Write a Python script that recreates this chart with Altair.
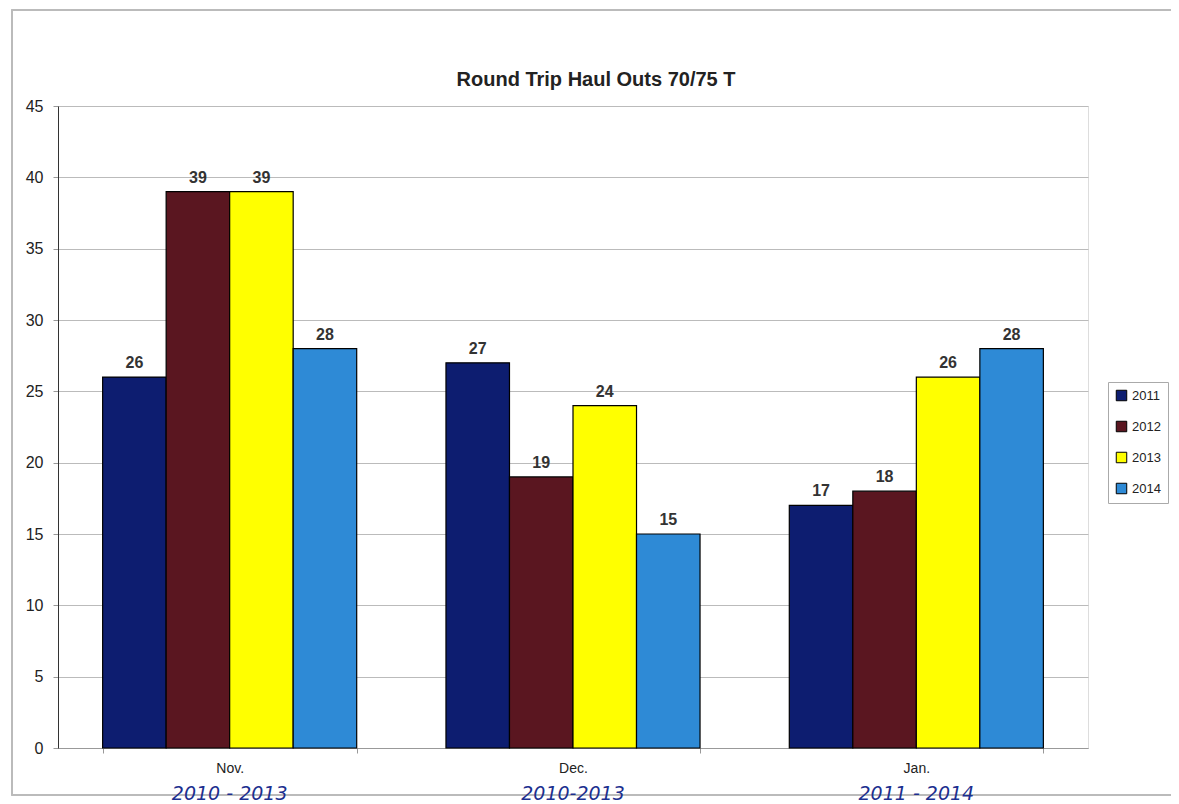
import altair as alt
import pandas as pd

months = ["Nov.", "Dec.", "Jan."]
ranges = ["2010 - 2013", "2010-2013", "2011 - 2014"]
years = ["2011", "2012", "2013", "2014"]
values = {
    "2011": [26, 27, 17],
    "2012": [39, 19, 18],
    "2013": [39, 24, 26],
    "2014": [28, 15, 28],
}
colors = ["#0d1d70", "#5a1620", "#ffff00", "#2e8ad6"]
title_text = ["Round Trip Haul Outs 70/75 T"]

rows = []
for y in years:
    for m, v in zip(months, values[y]):
        rows.append({"month": m, "year": y, "value": v})
df = pd.DataFrame(rows)
rdf = pd.DataFrame({"month": months, "range": ranges})
tdf = pd.DataFrame({"t": title_text})

xscale = alt.Scale(domain=months, paddingInner=0.26, paddingOuter=0.13)

bars = alt.Chart(df).mark_bar(stroke="black", strokeWidth=1.2).encode(
    x=alt.X("month:N", scale=xscale, sort=months,
            axis=alt.Axis(title=None, labelAngle=0, labelFont="Arial", labelFontSize=14,
                          labelColor="#222", labelPadding=8, ticks=True, tickBand="extent",
                          domainColor="#999", tickColor="#999", grid=False)),
    xOffset=alt.XOffset("year:N", sort=years, scale=alt.Scale(paddingInner=0, paddingOuter=0)),
    y=alt.Y("value:Q", scale=alt.Scale(domain=[0, 45]),
            axis=alt.Axis(title=None, values=list(range(0, 46, 5)), labelFont="Arial",
                          labelFontSize=16, labelColor="#222", labelPadding=10,
                          domainColor="#333", tickColor="#999", tickSize=5,
                          gridColor="#bbbbbb", gridWidth=1.2)),
    color=alt.Color("year:N", sort=years, scale=alt.Scale(domain=years, range=colors),
                    legend=alt.Legend(title=None, orient="none", legendX=1050, legendY=276,
                                      symbolType="square", symbolSize=110, symbolStrokeColor="black",
                                      symbolStrokeWidth=1, labelFont="Arial", labelFontSize=13,
                                      labelColor="#222", rowPadding=16, strokeColor="#aaa",
                                      padding=7, fillColor="white")),
)

labels = alt.Chart(df).mark_text(dy=-14, fontWeight="bold", font="Arial", fontSize=16,
                                 color="#333").encode(
    x=alt.X("month:N", scale=xscale, sort=months),
    xOffset=alt.XOffset("year:N", sort=years),
    y="value:Q",
    text="value:Q",
)

hand = alt.Chart(rdf).mark_text(font="DejaVu Sans", fontStyle="italic", fontSize=19,
                                color="#1c2f8f", baseline="middle").encode(
    x=alt.X("month:N", scale=xscale, sort=months),
    y=alt.value(688),
    text="range:N",
)

title = alt.Chart(tdf).mark_text(font="Arial", fontSize=20, fontWeight="bold",
                                 color="#222", baseline="middle").encode(
    x=alt.value(538), y=alt.value(-26), text="t:N",
)

frame = alt.Chart(rdf).mark_rect(fillOpacity=0, stroke="#bbb", strokeWidth=1.5).encode(
    x=alt.value(-46), x2=alt.value(1114), y=alt.value(-96), y2=alt.value(689),
)

chart = alt.layer(frame, bars, labels, hand, title).properties(
    width=1030, height=642,
    autosize=alt.AutoSizeParams(type="none"),
    padding={"left": 50, "top": 98, "right": 83, "bottom": 56},
).configure_view(stroke="#999", strokeWidth=1.2).configure(background="white")

chart.save("out.html", embed_options={"renderer": "svg", "actions": False})
